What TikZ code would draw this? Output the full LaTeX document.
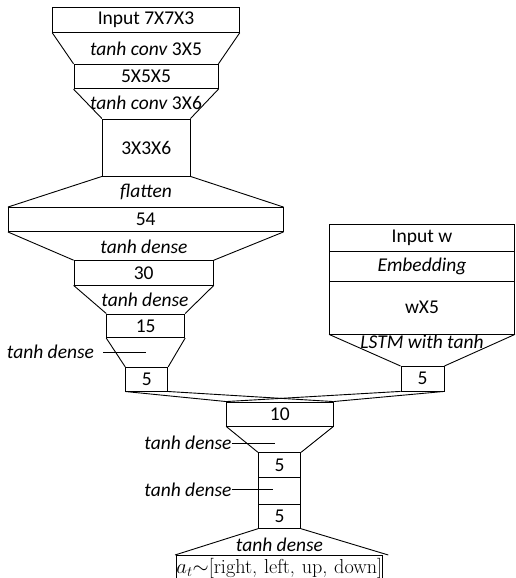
\documentclass[tikz,border=0pt]{standalone}
\usepackage{fontspec}
\setmainfont{Carlito}
\newfontfamily\lmrm{Latin Modern Roman}
\begin{document}
\begin{tikzpicture}[x=1pt,y=-1pt,
  every node/.style={font=\fontsize{19.5pt}{23pt}\selectfont},
  box/.style={draw, line width=0.9pt, inner sep=0pt, anchor=center},
  lab/.style={inner sep=0pt, anchor=center},
  ln/.style={line width=0.9pt}]
\useasboundingbox (0,0) rectangle (516,578);
% left column
\node[box, minimum width=186.6pt, minimum height=25pt] (in) at (146,19.8) {Input 7X7X3};
\node[lab] (c1) at (146,49) {\itshape tanh conv\/ \upshape 3X5};
\node[box, minimum width=144pt, minimum height=24.4pt] (b5x) at (146,76.5) {5X5X5};
\node[lab] (c2) at (146,103) {\itshape tanh conv\/ \upshape 3X6};
\node[box, minimum width=87.7pt, minimum height=57pt] (b3x) at (146.2,147.5) {3X3X6};
\node[lab] (fl) at (146,192) {\itshape flatten};
\node[box, minimum width=274.7pt, minimum height=24pt] (b54) at (145.7,219.5) {54};
\node[lab] (d1) at (144,246.5) {\itshape tanh dense};
\node[box, minimum width=139.3pt, minimum height=24.3pt] (b30) at (143.7,272.8) {30};
\node[lab] (d2) at (145,300) {\itshape tanh dense};
\node[box, minimum width=78pt, minimum height=23.7pt] (b15) at (145.7,325.8) {15};
\node[box, minimum width=42pt, minimum height=23.7pt] (b5a) at (146.7,379.2) {5};
\node[lab] (d3) at (50.5,352) {\itshape tanh dense};
\coordinate (d3s) at (103,352);
\coordinate (d3e) at (146,352);
% right column
\node[box, minimum width=185pt, minimum height=27.7pt] (inw) at (422,237.8) {Input w};
\node[box, minimum width=185pt, minimum height=30pt] (emb) at (422,266.7) {\itshape Embedding};
\node[box, minimum width=185pt, minimum height=52.3pt] (wx) at (422,307.8) {wX5};
\node[lab] (lstm) at (422,342) {\itshape LSTM with tanh};
\node[box, minimum width=43pt, minimum height=24.5pt] (b5b) at (422.5,378.7) {5};
% merge
\node[box, minimum width=106.3pt, minimum height=24pt] (b10) at (279.8,414) {10};
\node[lab] (d4) at (188,443) {\itshape tanh dense};
\coordinate (d4e) at (275,443);
\node[box, minimum width=42.4pt, minimum height=25pt] (b5c) at (279.5,465.2) {5};
\node[box, minimum width=42.4pt, minimum height=26.6pt] (emp) at (279.5,491) {};
\node[lab] (d5) at (188,489.3) {\itshape tanh dense};
\coordinate (d5e) at (273,489.3);
\node[box, minimum width=42.4pt, minimum height=24pt] (b5d) at (279.5,516.3) {5};
\node[lab] (d6) at (279.5,545) {\itshape tanh dense};
\node[box, text width=206.5pt, align=center, minimum height=27pt, font=\fontsize{20.2pt}{24pt}\selectfont] (out) at (279.25,568.5) {$a_t{\sim}$\lmrm[right, left, up, down]};
\coordinate (tl) at (175,555);
\coordinate (tr) at (388.3,555);
% trapezoid sides
\draw[ln] (in.south west) -- (b5x.north west) (in.south east) -- (b5x.north east);
\draw[ln] (b5x.south west) -- (b3x.north west) (b5x.south east) -- (b3x.north east);
\draw[ln] (b3x.south west) -- (b54.north west) (b3x.south east) -- (b54.north east);
\draw[ln] (b54.south west) -- (b30.north west) (b54.south east) -- (b30.north east);
\draw[ln] (b30.south west) -- (b15.north west) (b30.south east) -- (b15.north east);
\draw[ln] (b15.south west) -- (b5a.north west) (b15.south east) -- (b5a.north east);
\draw[ln] (wx.south west) -- (b5b.north west) (wx.south east) -- (b5b.north east);
\draw[ln] (b5a.south west) -- (b10.north west) (b5a.south east) -- (b10.north east);
\draw[ln] (b5b.south west) -- (b10.north west) (b5b.south east) -- (b10.north east);
\draw[ln] (b10.south west) -- (b5c.north west) (b10.south east) -- (b5c.north east);
\draw[ln] (b5d.south west) -- (tl) (b5d.south east) -- (tr);
% leaders
\draw[ln] (d3s) -- (d3e);
\draw[ln] (d4.east) -- (d4e);
\draw[ln] (d5.east) -- (d5e);
\end{tikzpicture}
\end{document}
